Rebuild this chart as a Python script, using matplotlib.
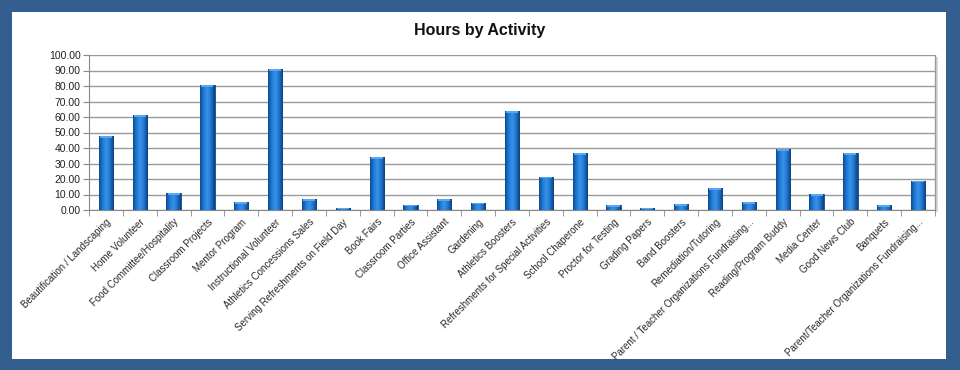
import numpy as np
import matplotlib
matplotlib.use("Agg")
import matplotlib.pyplot as plt
from matplotlib.patches import Rectangle
from matplotlib.colors import LinearSegmentedColormap

categories = [
    "Beautification / Landscaping", "Home Volunteer", "Food Committee/Hospitality",
    "Classroom Projects", "Mentor Program", "Instructional Volunteer",
    "Athletics Concessions Sales", "Serving Refreshments on Field Day", "Book Fairs",
    "Classroom Parties", "Office Assistant", "Gardening", "Athletics Boosters",
    "Refreshments for Special Activities", "School Chaperone", "Proctor for Testing",
    "Grading Papers", "Band Boosters", "Remediation/Tutoring",
    "Parent / Teacher Organizations Fundraising...", "Reading/Program Buddy",
    "Media Center", "Good News Club", "Banquets",
    "Parent/Teacher Organizations Fundraising...",
]
hours = [47.8, 61.1, 11.0, 80.6, 5.2, 91.1, 7.1, 1.5, 33.9, 3.5, 7.1, 4.8, 64.1,
         21.6, 36.9, 3.3, 1.5, 3.9, 14.0, 5.2, 39.1, 10.2, 36.5, 3.3, 19.0]
yticks = [0, 10, 20, 30, 40, 50, 60, 70, 80, 90, 100]

plt.rcParams['font.family'] = ['Liberation Sans Narrow', 'Liberation Sans', 'DejaVu Sans']

fig = plt.figure(figsize=(9.6, 3.7), dpi=100)
fig.patch.set_facecolor('#355E90')
# white inner panel
fig.add_artist(Rectangle((12/960, 1-359/370), (946-12)/960, (359-12)/370,
                         transform=fig.transFigure, facecolor='white', edgecolor='none', zorder=0))

ax = fig.add_axes([89/960, 1-210/370, (935-89)/960, (210-55)/370])
ax.set_facecolor('none')
x = np.arange(len(categories))
bars = ax.bar(x, hours, width=0.42, color='#1A6BC0', edgecolor='#0D4A8C', linewidth=0.6, zorder=3)

# horizontal gradient inside each bar
cmap = LinearSegmentedColormap.from_list('bar', ['#0B4A90', '#1E7BD8', '#3A93E8', '#1E74CC', '#0A3F7E'])
grad = np.linspace(0, 1, 64).reshape(1, -1)
for b in bars:
    x0, w, h = b.get_x(), b.get_width(), b.get_height()
    im = ax.imshow(grad, cmap=cmap, extent=(x0, x0 + w, 0, h), aspect='auto', zorder=3.5,
                   interpolation='bicubic')
    im.set_clip_path(b)
    # light cap on top
    cap = min(1.2, h * 0.5)
    ax.bar(x0 + w / 2, cap, width=w * 0.85, bottom=h - cap, color='#58A8F0',
           edgecolor='none', zorder=4)

ax.set_xlim(-0.5, len(categories) - 0.5)
ax.set_ylim(0, 100)
ax.set_yticks(yticks)
ax.set_yticklabels([f"{v:.2f}" for v in yticks], fontsize=7.5, color='#222222')
ax.yaxis.grid(True, color='#9A9A9A', linewidth=1.0, zorder=1)
ax.set_axisbelow(True)

ax.set_xticks(x)
ax.set_xticklabels(categories, rotation=45, ha='right', rotation_mode='anchor',
                   fontsize=7.0, color='#2A2A2A')
ax.tick_params(axis='x', length=0, pad=5)
ax.set_xticks(np.arange(-0.5, len(categories), 1), minor=True)
ax.tick_params(axis='x', which='minor', length=4, color='#888888', direction='out')
ax.tick_params(axis='y', length=4, color='#888888', direction='out', pad=2)

for s in ['top']:
    ax.spines[s].set_visible(False)
ax.spines['left'].set_color('#888888')
ax.spines['bottom'].set_color('#888888')
ax.spines['right'].set_color('#9A9A9A')
ax.spines['right'].set_linewidth(1.0)
# soft shadow on the right side of plot area
ax.add_patch(Rectangle((1.0, -0.01), 0.004, 1.0, transform=ax.transAxes,
                       facecolor='#D8D8D8', edgecolor='none', clip_on=False, zorder=0))

fig.text(480/960, 1-31/370, "Hours by Activity", ha='center', va='center',
         fontsize=11.5, fontweight='bold', color='#111111',
         family=['Liberation Sans', 'DejaVu Sans'])

fig.savefig('out.png', dpi=100, facecolor=fig.get_facecolor())
